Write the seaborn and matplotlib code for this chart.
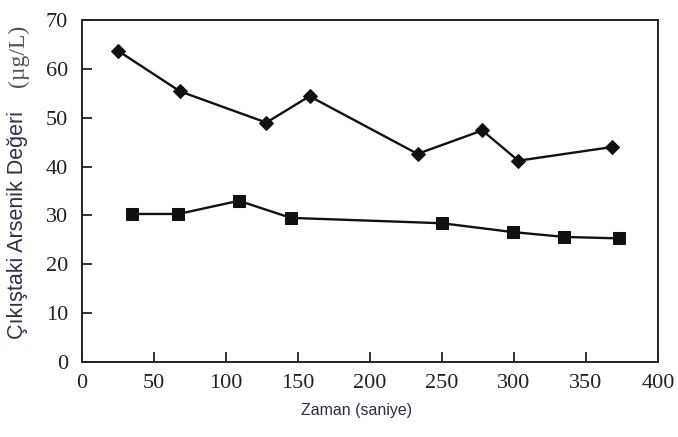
import matplotlib
matplotlib.use("Agg")
import matplotlib.pyplot as plt
import seaborn as sns
import pandas as pd

# Outlet arsenic concentration over time, two runs
time_diamond = [25, 68, 128, 158, 233, 278, 303, 368]
arsenic_diamond = [63.7, 55.4, 49.0, 54.4, 42.6, 47.4, 41.2, 44.0]

time_square = [35, 67, 109, 145, 250, 299, 335, 373]
arsenic_square = [30.3, 30.3, 33.0, 29.5, 28.4, 26.6, 25.6, 25.3]

x_ticks = [0, 50, 100, 150, 200, 250, 300, 350, 400]
y_ticks = [0, 10, 20, 30, 40, 50, 60, 70]

sns.set_theme(style="ticks")
plt.rcParams["font.family"] = ["Liberation Serif", "DejaVu Serif"]

df_d = pd.DataFrame({"t": time_diamond, "c": arsenic_diamond})
df_s = pd.DataFrame({"t": time_square, "c": arsenic_square})

fig = plt.figure(figsize=(6.78, 4.37), dpi=100)
ax = fig.add_axes([82 / 678, 1 - 362 / 437, 576 / 678, 342 / 437])

sns.lineplot(data=df_d, x="t", y="c", ax=ax, color="#111111", linewidth=1.7,
             marker="D", markersize=7.5, markeredgecolor="#111111",
             markerfacecolor="#111111")
sns.lineplot(data=df_s, x="t", y="c", ax=ax, color="#111111", linewidth=1.7,
             marker="s", markersize=8.5, markeredgecolor="#111111",
             markerfacecolor="#111111")

ax.set_xlim(0, 400)
ax.set_ylim(0, 70)
ax.set_xticks(x_ticks)
ax.set_yticks(y_ticks)
ax.set_xticklabels([str(v) for v in x_ticks])
ax.set_yticklabels([str(v) for v in y_ticks])
ax.tick_params(axis="both", direction="in", length=7, width=1.3,
               labelsize=16, colors="#222222")
ax.tick_params(axis="x", pad=9)
ax.tick_params(axis="y", pad=10)
ax.tick_params(top=False, right=False)
for side in ["left", "bottom", "top", "right"]:
    ax.spines[side].set_visible(True)
    ax.spines[side].set_color("#222222")
    ax.spines[side].set_linewidth(1.4)

ax.set_xlabel("")
ax.set_ylabel("")

fig.text(357 / 678, 1 - 411 / 437, "Zaman (saniye)", ha="center", va="center",
         fontsize=11.5, color="#2b2b45", family=["Liberation Sans", "DejaVu Sans"])
fig.text(18 / 678, 1 - 225 / 437, "Çıkıştaki Arsenik Değeri", ha="center",
         va="center", rotation=90, fontsize=15.5, color="#33304a",
         family=["Liberation Sans", "DejaVu Sans"])
fig.text(18 / 678, 1 - 56 / 437, "(µg/L)", ha="center", va="center",
         rotation=90, fontsize=17, color="#555555",
         family=["Liberation Serif", "DejaVu Serif"])

fig.savefig("out.png", dpi=100, facecolor="white")
